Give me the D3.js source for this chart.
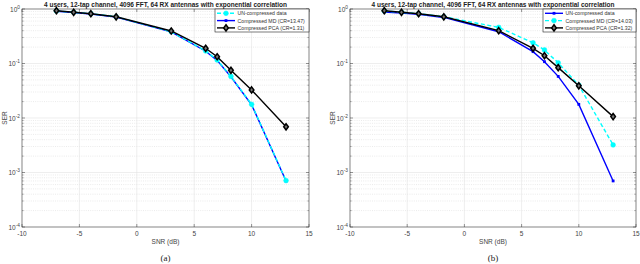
<!DOCTYPE html>
<html><head><meta charset="utf-8">
<script src="https://cdn.jsdelivr.net/npm/d3@7"></script>
<style>body{margin:0;background:#fff}svg{display:block}</style>
</head><body>
<svg id="c" width="640" height="264"></svg>
<script>
const snr = [-7, -5.5, -4, -1.8, 3, 6, 7, 8.2, 10, 13];
// Panel (a)
const serUnA  = [0.92, 0.87, 0.82, 0.72, 0.383, 0.17, 0.116, 0.058, 0.0178, 0.00071];
const serMdA  = [0.91, 0.86, 0.81, 0.71, 0.380, 0.168, 0.114, 0.057, 0.0175, 0.00070];
const serPcaA = [0.93, 0.87, 0.82, 0.72, 0.395, 0.19, 0.133, 0.075, 0.0327, 0.0069];
// Panel (b)
const serUnB  = [0.88, 0.84, 0.80, 0.70, 0.383, 0.165, 0.108, 0.058, 0.0178, 0.00070];
const serMdB  = [0.92, 0.87, 0.82, 0.72, 0.46, 0.24, 0.177, 0.103, 0.040, 0.0032];
const serPcaB = [0.93, 0.87, 0.82, 0.72, 0.40, 0.19, 0.139, 0.084, 0.039, 0.0106];
const xTicks = [-10, -5, 0, 5, 10, 15];
const yExps = [0, -1, -2, -3, -4];
const titleText = "4 users, 12-tap channel, 4096 FFT, 64 RX antennas with exponential correlation";
const legendA = ["UN-compressed data", "Compressed MD (CR=13.47)", "Compressed PCA (CR=1.31)"];
const legendB = ["UN-compressed data", "Compressed MD (CR=14.03)", "Compressed PCA (CR=1.32)"];

const svg = d3.select("#c");
const font = "'Liberation Sans', Arial, Helvetica, sans-serif";

function panel(opt) {
  const {x0, x1, y0, y1, series, legend, caption, legX} = opt;
  const g = svg.append("g");
  const x = d3.scaleLinear().domain([-10, 15]).range([x0, x1]);
  const y = d3.scaleLog().domain([1e-4, 1]).range([y1, y0]);
  // minor grid
  const minors = [];
  for (let e = -4; e < 0; e++) for (let k = 2; k <= 9; k++) minors.push(k * Math.pow(10, e));
  g.selectAll(".mg").data(minors).join("line")
    .attr("x1", x0).attr("x2", x1).attr("y1", d => y(d)).attr("y2", d => y(d))
    .attr("stroke", "#d6d6d6").attr("stroke-width", 0.5).attr("stroke-dasharray", "1,1.2");
  // major grid
  g.selectAll(".gx").data(xTicks.slice(1, -1)).join("line")
    .attr("x1", d => x(d)).attr("x2", d => x(d)).attr("y1", y0).attr("y2", y1)
    .attr("stroke", "#e2e2e2").attr("stroke-width", 0.6);
  g.selectAll(".gy").data(yExps.slice(1, -1)).join("line")
    .attr("x1", x0).attr("x2", x1).attr("y1", d => y(Math.pow(10, d))).attr("y2", d => y(Math.pow(10, d)))
    .attr("stroke", "#e2e2e2").attr("stroke-width", 0.6);
  // ticks
  const tl = 3;
  xTicks.forEach(t => {
    g.append("line").attr("x1", x(t)).attr("x2", x(t)).attr("y1", y1).attr("y2", y1 - tl).attr("stroke", "#333").attr("stroke-width", 0.5);
    g.append("line").attr("x1", x(t)).attr("x2", x(t)).attr("y1", y0).attr("y2", y0 + tl).attr("stroke", "#333").attr("stroke-width", 0.5);
  });
  yExps.forEach(e => {
    const yy = y(Math.pow(10, e));
    g.append("line").attr("x1", x0).attr("x2", x0 + tl).attr("y1", yy).attr("y2", yy).attr("stroke", "#333").attr("stroke-width", 0.5);
    g.append("line").attr("x1", x1).attr("x2", x1 - tl).attr("y1", yy).attr("y2", yy).attr("stroke", "#333").attr("stroke-width", 0.5);
  });
  minors.forEach(m => {
    const yy = y(m);
    g.append("line").attr("x1", x0).attr("x2", x0 + 1.8).attr("y1", yy).attr("y2", yy).attr("stroke", "#555").attr("stroke-width", 0.4);
    g.append("line").attr("x1", x1).attr("x2", x1 - 1.8).attr("y1", yy).attr("y2", yy).attr("stroke", "#555").attr("stroke-width", 0.4);
  });
  // box
  g.append("rect").attr("x", x0).attr("y", y0).attr("width", x1 - x0).attr("height", y1 - y0)
    .attr("fill", "none").attr("stroke", "#333").attr("stroke-width", 0.6);
  // tick labels
  g.selectAll(".xl").data(xTicks).join("text")
    .attr("x", d => x(d)).attr("y", y1 + 8.5).attr("text-anchor", "middle")
    .attr("font-family", font).attr("font-size", 6.5).attr("fill", "#444").text(d => d);
  yExps.forEach(e => {
    const t = g.append("text").attr("x", x0 - 2).attr("y", y(Math.pow(10, e)) + 2.5)
      .attr("text-anchor", "end").attr("font-family", font).attr("font-size", 6.5).attr("fill", "#444");
    t.append("tspan").text("10");
    t.append("tspan").attr("dy", -3).attr("font-size", 4.8).text(e);
  });
  // axis labels
  g.append("text").attr("x", (x0 + x1) / 2).attr("y", y1 + 16.5).attr("text-anchor", "middle")
    .attr("font-family", font).attr("font-size", 6.5).attr("fill", "#444").text("SNR (dB)");
  g.append("text").attr("transform", `translate(${x0 - 15},${(y0 + y1) / 2}) rotate(-90)`)
    .attr("text-anchor", "middle").attr("font-family", font).attr("font-size", 6.5).attr("fill", "#444").text("SER");
  g.append("text").attr("x", (x0 + x1) / 2).attr("y", 7).attr("text-anchor", "middle")
    .attr("font-family", font).attr("font-size", 6.6).attr("font-weight", "bold").attr("fill", "#222")
    .attr("textLength", 243).attr("lengthAdjust", "spacingAndGlyphs").text(titleText);
  g.append("text").attr("x", (x0 + x1) / 2).attr("y", 261).attr("text-anchor", "middle")
    .attr("font-family", "'Liberation Serif', 'Times New Roman', serif").attr("font-size", 9).attr("fill", "#222").text(caption);

  // series
  const line = d3.line().x(d => x(d[0])).y(d => y(d[1]));
  const drawMarker = (sel, s, cx, cy) => {
    if (s.marker === "circle") {
      sel.append("circle").attr("cx", cx).attr("cy", cy).attr("r", 2.4).attr("fill", s.color).attr("stroke", s.color).attr("stroke-width", 0.5);
    } else if (s.marker === "square") {
      sel.append("rect").attr("x", cx - 1.4).attr("y", cy - 1.4).attr("width", 2.8).attr("height", 2.8).attr("fill", s.color);
    } else {
      const r = 3.1;
      sel.append("path").attr("d", `M${cx},${cy - r}L${cx + r * 0.75},${cy}L${cx},${cy + r}L${cx - r * 0.75},${cy}Z`)
        .attr("fill", "#777").attr("stroke", s.color).attr("stroke-width", 1.5);
    }
  };
  opt.order.forEach(i => {
    const s = series[i];
    const pts = snr.map((v, j) => [v, s.values[j]]);
    g.append("path").attr("d", line(pts)).attr("fill", "none").attr("stroke", s.color)
      .attr("stroke-width", 1.4).attr("stroke-dasharray", s.dash ? "4,2.5" : null);
    pts.forEach(p => drawMarker(g, s, x(p[0]), y(p[1])));
  });

  // legend
  const lx = legX, ly = y0, lw = x1 - legX, lh = 23;
  g.append("rect").attr("x", lx).attr("y", ly).attr("width", lw).attr("height", lh)
    .attr("fill", "#fff").attr("stroke", "#222").attr("stroke-width", 0.6);
  series.forEach((s, i) => {
    const yy = ly + 4.3 + i * 7.3;
    g.append("line").attr("x1", lx + 2).attr("x2", lx + 20).attr("y1", yy).attr("y2", yy)
      .attr("stroke", s.color).attr("stroke-width", 1.4).attr("stroke-dasharray", s.dash ? "4,2.5" : null);
    drawMarker(g, s, lx + 11, yy);
    g.append("text").attr("x", lx + 22.5).attr("y", yy + 2).attr("font-family", font).attr("font-size", 5.2)
      .attr("fill", "#333").text(legend[i]);
  });
}

panel({
  x0: 22, x1: 309, y0: 9, y1: 227, legX: 215, caption: "(a)", legend: legendA,
  series: [
    {values: serUnA, color: "#00ffff", dash: true, marker: "circle"},
    {values: serMdA, color: "#0000ff", dash: false, marker: "square"},
    {values: serPcaA, color: "#000000", dash: false, marker: "diamond"}
  ],
  order: [1, 0, 2]
});
panel({
  x0: 350, x1: 636, y0: 9, y1: 227, legX: 543, caption: "(b)", legend: legendB,
  series: [
    {values: serUnB, color: "#0000ff", dash: false, marker: "square"},
    {values: serMdB, color: "#00ffff", dash: true, marker: "circle"},
    {values: serPcaB, color: "#000000", dash: false, marker: "diamond"}
  ],
  order: [0, 1, 2]
});
</script>
</body></html>
